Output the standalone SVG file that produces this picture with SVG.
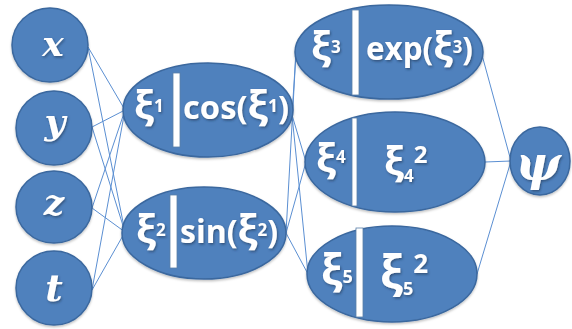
<svg xmlns="http://www.w3.org/2000/svg" width="572" height="329" viewBox="0 0 572 329">
<defs>
<filter id="sh" x="-20%" y="-20%" width="140%" height="140%">
<feDropShadow dx="1" dy="1.5" stdDeviation="1" flood-color="#1f3550" flood-opacity="0.6"/>
</filter>
<filter id="nsh" x="-10%" y="-10%" width="120%" height="125%">
<feDropShadow dx="0" dy="1.5" stdDeviation="1.2" flood-color="#000" flood-opacity="0.25"/>
</filter>
</defs>
<style>
.node{fill:#4f81bd;stroke:#3a679e;stroke-width:1.5;filter:url(#nsh)}
.bar{fill:#ffffff;stroke:#5a7fa8;stroke-width:0.8}
.edge{stroke:#5b8fd2;stroke-width:1;fill:none}
.v{font-family:"DejaVu Serif","Liberation Serif",serif;font-weight:bold;font-style:italic;fill:#fff;text-anchor:middle;filter:url(#sh)}
.t{font-family:"Open Sans","Liberation Sans",sans-serif;font-weight:bold;fill:#fff;filter:url(#sh)}
.xi{font-size:40px}
</style>
<rect width="572" height="329" fill="#fff"/>
<g id="connectors">
<line class="edge" x1="88" y1="47" x2="125" y2="110"/>
<line class="edge" x1="88" y1="47" x2="125" y2="232"/>
<line class="edge" x1="92" y1="127" x2="125" y2="110"/>
<line class="edge" x1="92" y1="127" x2="125" y2="232"/>
<line class="edge" x1="92" y1="208" x2="125" y2="110"/>
<line class="edge" x1="92" y1="208" x2="125" y2="232"/>
<line class="edge" x1="92" y1="290" x2="125" y2="110"/>
<line class="edge" x1="92" y1="290" x2="125" y2="232"/>
<line class="edge" x1="292" y1="115" x2="296" y2="52"/>
<line class="edge" x1="292" y1="115" x2="306" y2="162"/>
<line class="edge" x1="292" y1="115" x2="308" y2="274"/>
<line class="edge" x1="286" y1="233" x2="296" y2="52"/>
<line class="edge" x1="286" y1="233" x2="306" y2="162"/>
<line class="edge" x1="286" y1="233" x2="308" y2="274"/>
<line class="edge" x1="482" y1="55" x2="511" y2="161"/>
<line class="edge" x1="485" y1="162" x2="511" y2="161"/>
<line class="edge" x1="477" y1="274" x2="511" y2="161"/>
</g>
<g id="node-x">
<ellipse class="node" cx="50" cy="45" rx="38" ry="37"/>
<text class="v" x="53" y="56" font-size="36">x</text>
</g>
<g id="node-y">
<ellipse class="node" cx="54" cy="128" rx="38" ry="37"/>
<text class="v" x="55" y="134" font-size="36">y</text>
</g>
<g id="node-z">
<ellipse class="node" cx="54" cy="207" rx="38" ry="36"/>
<text class="v" x="54" y="215" font-size="36">z</text>
</g>
<g id="node-t">
<ellipse class="node" cx="54" cy="288" rx="38" ry="37"/>
<text class="v" x="54" y="301" font-size="38">t</text>
</g>
<g id="node-xi1">
<ellipse class="node" cx="208" cy="110" rx="85" ry="47"/>
<rect class="bar" x="173" y="73" width="7" height="74"/>
<text class="t" x="134" y="119"><tspan class="xi">ξ</tspan><tspan font-size="17" dy="-7">1</tspan></text>
<text class="t" x="183" y="119" font-size="32" textLength="106" lengthAdjust="spacingAndGlyphs">cos(<tspan class="xi">ξ</tspan><tspan font-size="17" dy="-7">1</tspan><tspan dy="7">)</tspan></text>
</g>
<g id="node-xi2">
<ellipse class="node" cx="204" cy="233" rx="82" ry="46"/>
<rect class="bar" x="170" y="195" width="7" height="73"/>
<text class="t" x="136" y="243"><tspan class="xi">ξ</tspan><tspan font-size="17" dy="-7">2</tspan></text>
<text class="t" x="180" y="243" font-size="32" textLength="98" lengthAdjust="spacingAndGlyphs">sin(<tspan class="xi">ξ</tspan><tspan font-size="17" dy="-7">2</tspan><tspan dy="7">)</tspan></text>
</g>
<g id="node-xi3">
<ellipse class="node" cx="389" cy="52" rx="94" ry="47"/>
<rect class="bar" x="352" y="10" width="7" height="85"/>
<text class="t" x="311" y="60"><tspan class="xi">ξ</tspan><tspan font-size="17" dy="-7">3</tspan></text>
<text class="t" x="366" y="60" font-size="32" textLength="107" lengthAdjust="spacingAndGlyphs">exp(<tspan class="xi">ξ</tspan><tspan font-size="17" dy="-7">3</tspan><tspan dy="7">)</tspan></text>
</g>
<g id="node-xi4">
<ellipse class="node" cx="395" cy="162" rx="90" ry="50"/>
<rect class="bar" x="352" y="118" width="5" height="88"/>
<text class="t" x="316" y="172"><tspan class="xi">ξ</tspan><tspan font-size="17" dy="-9">4</tspan></text>
<text class="t" x="384" y="175"><tspan class="xi">ξ</tspan><tspan font-size="17" dy="7">4</tspan><tspan font-size="24" dy="-19">2</tspan></text>
</g>
<g id="node-xi5">
<ellipse class="node" cx="392" cy="274" rx="85" ry="48"/>
<rect class="bar" x="356" y="228" width="7" height="89"/>
<text class="t" x="321" y="285"><tspan font-size="43">ξ</tspan><tspan font-size="18" dy="-2">5</tspan></text>
<text class="t" x="380" y="289"><tspan font-size="46">ξ</tspan><tspan font-size="18" dy="6">5</tspan><tspan font-size="26" dy="-22">2</tspan></text>
</g>
<g id="node-psi">
<ellipse class="node" cx="540" cy="161" rx="30" ry="34"/>
<text class="v" x="538" y="180" font-size="48">ψ</text>
</g>
</svg>
